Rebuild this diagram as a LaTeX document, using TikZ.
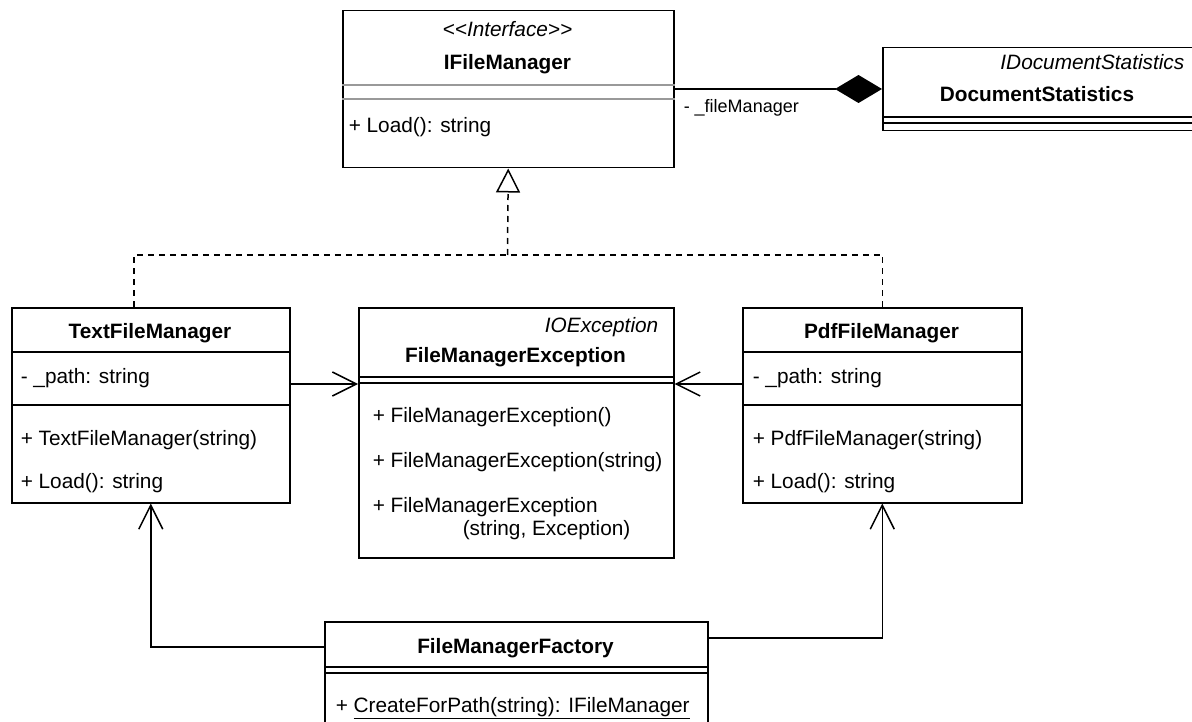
\documentclass[tikz,border=0pt]{standalone}
\usepackage{fontspec}
\setmainfont{Liberation Sans}
\usetikzlibrary{arrows.meta}

\begin{document}
\begin{tikzpicture}[x=1pt, y=-1pt, line width=1.5pt,
    classbox/.style={draw, rectangle, anchor=north west, inner sep=0pt},
    member/.style={inner sep=0pt, anchor=base west, font=\fontsize{20.8}{24}\selectfont},
    classname/.style={inner sep=0pt, anchor=base, font=\fontsize{20.8}{24}\selectfont\bfseries},
    stereo/.style={inner sep=0pt, font=\fontsize{20.8}{24}\selectfont\itshape},
    rolename/.style={inner sep=0pt, anchor=base west, font=\fontsize{18}{20}\selectfont},
    assoc/.style={-{Straight Barb[length=24pt,width=24pt]}},
    realize/.style={dash pattern=on 6pt off 5pt},
    compose/.style={-{Diamond[length=47pt,width=28pt]}}]
    \useasboundingbox (0,0) rectangle (1192,722);

    % Interface
    \node[classbox, minimum width=331pt, minimum height=157pt] (ifm) at (342,10) {};
    \draw[black!40] (ifm.west |- 0,85) -- (ifm.east |- 0,85);
    \draw[black!40] (ifm.west |- 0,99) -- (ifm.east |- 0,99);
    \node[stereo, anchor=base] (ifmst) at (507.5,37) {<\kern0pt<Interface>\kern0pt>};
    \node[classname] (ifmname) at (507.5,70) {IFileManager};
    \node[member] (ifmload) at (348,133) {+ Load(): string};

    % DocumentStatistics
    \node[classbox, minimum width=320pt, minimum height=83pt] (ds) at (882,47) {};
    \draw (ds.west |- 0,117) -- (ds.east |- 0,117);
    \draw (ds.west |- 0,123) -- (ds.east |- 0,123);
    \node[stereo, anchor=base east] (dsst) at (1185,70) {IDocumentStatistics};
    \node[classname] (dsname) at (1037,102) {DocumentStatistics};

    % TextFileManager
    \node[classbox, minimum width=278pt, minimum height=195pt] (tfm) at (11,307) {};
    \draw (tfm.west |- 0,352) -- (tfm.east |- 0,352);
    \draw (tfm.west |- 0,405) -- (tfm.east |- 0,405);
    \node[classname] (tfmname) at (150,338) {TextFileManager};
    \node[member] (tfmpath) at (20,383) {- \_path: string};
    \node[member] (tfmctor) at (20,445) {+ TextFileManager(string)};
    \node[member] (tfmload) at (20,488) {+ Load(): string};

    % FileManagerException
    \node[classbox, minimum width=315pt, minimum height=250pt] (fme) at (358,307) {};
    \draw (fme.west |- 0,377) -- (fme.east |- 0,377);
    \draw (fme.west |- 0,383) -- (fme.east |- 0,383);
    \node[stereo, anchor=base east] (fmest) at (659,332) {IOException};
    \node[classname] (fmename) at (515.5,362) {FileManagerException};
    \node[member] (fmea) at (372,422) {+ FileManagerException()};
    \node[member] (fmeb) at (372,467) {+ FileManagerException(string)};
    \node[member] (fmec) at (372,512) {+ FileManagerException};
    \node[member] (fmed) at (462,535) {(string, Exception)};

    % PdfFileManager
    \node[classbox, minimum width=279pt, minimum height=195pt] (pfm) at (742,307) {};
    \draw (pfm.west |- 0,352) -- (pfm.east |- 0,352);
    \draw (pfm.west |- 0,405) -- (pfm.east |- 0,405);
    \node[classname] (pfmname) at (881.5,338) {PdfFileManager};
    \node[member] (pfmpath) at (752,383) {- \_path: string};
    \node[member] (pfmctor) at (752,445) {+ PdfFileManager(string)};
    \node[member] (pfmload) at (752,488) {+ Load(): string};

    % FileManagerFactory
    \node[classbox, minimum width=383pt, minimum height=130pt] (fmf) at (324,621) {};
    \draw (fmf.west |- 0,667) -- (fmf.east |- 0,667);
    \draw (fmf.west |- 0,673) -- (fmf.east |- 0,673);
    \node[classname] (fmfname) at (515.5,653) {FileManagerFactory};
    \node[member] (fmfcreate) at (335,712) {+ \underline{CreateForPath(string): IFileManager}};

    % Composition
    \draw[compose] ([yshift=-79pt]ifm.north east) -- ([yshift=-42pt]ds.north west);
    \node[rolename] (role) at (683,113) {- \_fileManager};

    % Realization
    \coordinate (join) at (507.5,255);
    \draw[realize] ([xshift=-17pt]tfm.north) |- (pfm.north |- join) -- (pfm.north);
    \draw[realize, -{Triangle[open, length=24pt, width=24pt]}] (join) -- (ifm.south);

    % Associations
    \draw[assoc] ([yshift=-77pt]tfm.north east) -- ([yshift=-77pt]fme.north west);
    \draw[assoc] ([yshift=-77pt]pfm.north west) -- ([yshift=-77pt]fme.north east);
    \draw[assoc] ([yshift=-26pt]fmf.north west) -| (tfm.south);
    \draw[assoc] ([yshift=-17pt]fmf.north east) -| (pfm.south);
\end{tikzpicture}
\end{document}
